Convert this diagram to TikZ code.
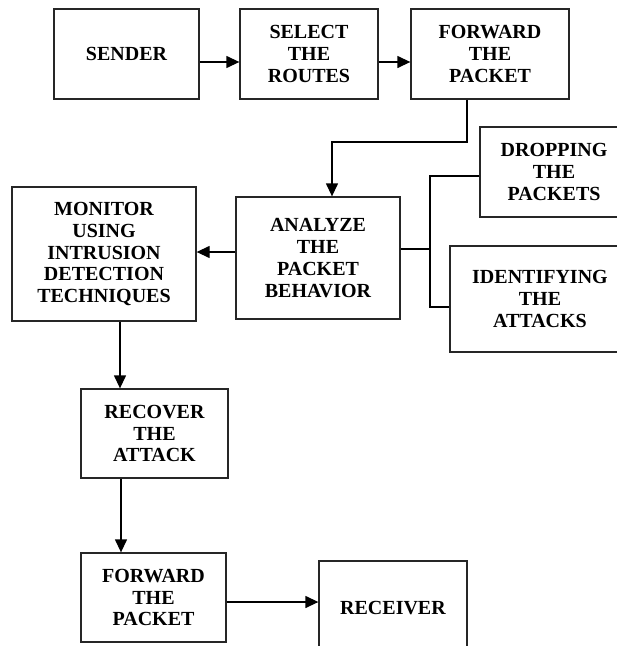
\documentclass[tikz,border=0pt]{standalone}
\usepackage{fontspec}
\setmainfont{Liberation Serif}
\usetikzlibrary{arrows.meta,positioning}

\tikzset{
  stage/.style={draw=black!85, line width=1.3pt, align=center, inner sep=0pt,
    font=\bfseries\fontsize{20}{21.7}\selectfont},
  flow/.style={line width=1.3pt, -{Triangle[length=13pt,width=12pt]}},
  link/.style={line width=1.3pt}
}

\begin{document}
\begin{tikzpicture}[x=1pt,y=-1pt]
\clip (0,0) rectangle (617,646);

%%%%%
%% top row
%%%%%
\node[stage, minimum width=145pt, minimum height=90pt] (sender) at (126.5,54) {SENDER};
\node[stage, minimum width=138pt, minimum height=90pt] (select) at (309,54) {SELECT\\THE\\ROUTES};
\node[stage, minimum width=158pt, minimum height=90pt] (fwdA) at (490,54) {FORWARD\\THE\\PACKET};

\draw[flow] ([yshift=-8pt]sender.east) -- ([yshift=-8pt]select.west);
\draw[flow] ([yshift=-8pt]select.east) -- ([yshift=-8pt]fwdA.west);

%%%%%
%% analysis
%%%%%
\node[stage, minimum width=164pt, minimum height=122pt] (analyze) at (318,258) {ANALYZE\\THE\\PACKET\\BEHAVIOR};
\node[stage, minimum width=184pt, minimum height=134pt] (monitor) at (104,254) {MONITOR\\USING\\INTRUSION\\DETECTION\\TECHNIQUES};
\node[stage, minimum width=148pt, minimum height=90pt] (drop) at (554,172) {DROPPING\\THE\\PACKETS};
\node[stage, minimum width=180pt, minimum height=106pt] (identify) at (540,299) {IDENTIFYING\\THE\\ATTACKS};

\coordinate (bend) at (332,142);
\draw[flow] ([xshift=-23pt]fwdA.south) |- (bend) -- (bend |- analyze.north);

\coordinate (aw) at ([yshift=6pt]analyze.west);
\draw[flow] (aw) -- (aw -| monitor.east);

\coordinate (jn) at (430,249);
\draw[link] (analyze.east |- jn) -- (jn);
\draw[link] ([yshift=-4pt]drop.west) -| (jn) |- ([yshift=-8pt]identify.west);

%%%%%
%% recovery
%%%%%
\node[stage, minimum width=147pt, minimum height=89pt] (recover) at (154.5,433.5) {RECOVER\\THE\\ATTACK};
\node[stage, minimum width=145pt, minimum height=89pt] (fwdB) at (153.5,597.5) {FORWARD\\THE\\PACKET};
\node[stage, minimum width=148pt, minimum height=94pt] (receiver) at (393,608) {RECEIVER};

\coordinate (ms) at ([xshift=16pt]monitor.south);
\draw[flow] (ms) -- (ms |- recover.north);
\coordinate (rs) at ([xshift=-33.5pt]recover.south);
\draw[flow] (rs) -- (rs |- fwdB.north);
\coordinate (fe) at ([yshift=-4.5pt]fwdB.east);
\draw[flow] (fe) -- (fe -| receiver.west);

\end{tikzpicture}
\end{document}
